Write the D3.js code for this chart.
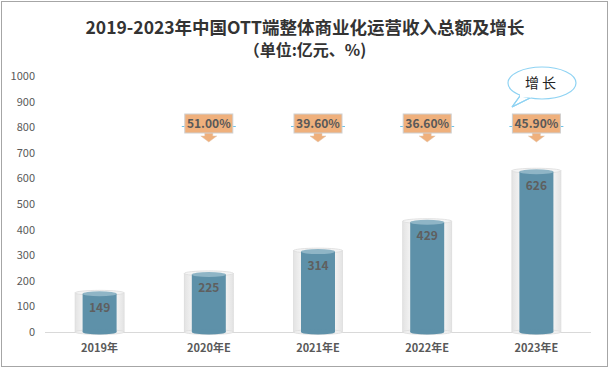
<!DOCTYPE html>
<html><head><meta charset="utf-8">
<script src="https://cdn.jsdelivr.net/npm/d3@7"></script>
<style>body{margin:0;background:#fff}svg{display:block}</style>
</head><body>
<script>
const categories = ["2019年","2020年E","2021年E","2022年E","2023年E"];
const revenue = [149,225,314,429,626];
const growth = [null,"51.00%","39.60%","36.60%","45.90%"];
const yTicks = [0,100,200,300,400,500,600,700,800,900,1000];
const titleLines = ["2019-2023年中国OTT端整体商业化运营收入总额及增长","（单位:亿元、%)"];
const bubbleText = "增长";

const W=609,H=368;
const font = "'Noto Sans CJK SC','Microsoft YaHei',sans-serif";
const svg = d3.select("body").append("svg").attr("width",W).attr("height",H);
svg.append("rect").attr("x",1.5).attr("y",1.5).attr("width",W-3).attr("height",H-3)
  .attr("fill","#fff").attr("stroke","#a6a6a6");

const x = d3.scaleBand().domain(categories).range([45,591]);
const y = d3.scaleLinear().domain([0,1000]).range([332,76]);

// title
svg.selectAll(".title").data(titleLines).join("text")
  .attr("x",305).attr("y",(d,i)=>i===0?34:56)
  .attr("text-anchor","middle").attr("font-family",font)
  .attr("font-weight","bold").attr("font-size",(d,i)=>i===0?17.5:16).attr("fill","#333")
  .text(d=>d);

// y axis
const yAxis = d3.axisLeft(y).tickValues(yTicks).tickFormat(d3.format("d")).tickSize(0).tickPadding(0);
const ya = svg.append("g").attr("transform","translate(35,0)").call(yAxis);
ya.select(".domain").remove();
ya.selectAll("text").attr("font-family",font).attr("font-size",11).attr("fill","#595959");

// baseline
svg.append("line").attr("x1",45).attr("x2",591).attr("y1",332.5).attr("y2",332.5)
  .attr("stroke","#d9d9d9");

// x axis labels
const xAxis = d3.axisBottom(x).tickSize(0).tickPadding(0);
const xa = svg.append("g").attr("transform","translate(0,344)").call(xAxis);
xa.select(".domain").remove();
xa.selectAll("text").attr("font-family",font).attr("font-size",11).attr("font-weight","bold").attr("fill","#595959");

const defs = svg.append("defs");
const gg = defs.append("linearGradient").attr("id","glass");
gg.append("stop").attr("offset","0").attr("stop-color","#e3e3e3");
gg.append("stop").attr("offset","0.2").attr("stop-color","#f7f7f7");
gg.append("stop").attr("offset","0.8").attr("stop-color","#f7f7f7");
gg.append("stop").attr("offset","1").attr("stop-color","#e3e3e3");

const outerW=49, innerW=34, ery=2.5;
const bars = svg.selectAll(".bar").data(categories.map((c,i)=>({c,v:revenue[i],g:growth[i]}))).join("g");
bars.each(function(d){
  const g=d3.select(this);
  const cx = x(d.c)+x.bandwidth()/2;
  const top = y(d.v)-1, base=y(0);
  // glass cylinder
  g.append("rect").attr("x",cx-outerW/2).attr("y",top).attr("width",outerW).attr("height",base-top)
    .attr("fill","url(#glass)").attr("stroke","#dcdcdc").attr("stroke-width",0.8);
  g.append("ellipse").attr("cx",cx).attr("cy",base).attr("rx",outerW/2).attr("ry",ery)
    .attr("fill","#efefef").attr("stroke","#dcdcdc").attr("stroke-width",0.8);
  g.append("ellipse").attr("cx",cx).attr("cy",top).attr("rx",outerW/2).attr("ry",ery)
    .attr("fill","#f4f4f4").attr("stroke","#dcdcdc").attr("stroke-width",0.8);
  // inner blue cylinder
  const it=y(d.v);
  g.append("rect").attr("x",cx-innerW/2).attr("y",it).attr("width",innerW).attr("height",base-it)
    .attr("fill","#5e91a9");
  g.append("ellipse").attr("cx",cx).attr("cy",base).attr("rx",innerW/2).attr("ry",ery)
    .attr("fill","#5e91a9");
  g.append("ellipse").attr("cx",cx).attr("cy",it).attr("rx",innerW/2).attr("ry",ery)
    .attr("fill","#8fb5c6");
  g.append("text").attr("x",cx).attr("y",it+18).attr("text-anchor","middle")
    .attr("font-family",font).attr("font-size",12).attr("font-weight","bold").attr("fill","#5f5f5f")
    .text(d.v);
  if(d.g){
    const by=114, bh=19, bw=48;
    g.append("line").attr("x1",cx-bw/2-3).attr("x2",cx-bw/2).attr("y1",126.5).attr("y2",126.5).attr("stroke","#6cc3ea");
    g.append("line").attr("x1",cx+bw/2).attr("x2",cx+bw/2+3).attr("y1",126.5).attr("y2",126.5).attr("stroke","#6cc3ea");
    g.append("path").attr("d",`M${cx-4},${by+bh} L${cx-4},${by+bh+3} L${cx-8},${by+bh+3} L${cx},${by+bh+9} L${cx+8},${by+bh+3} L${cx+4},${by+bh+3} L${cx+4},${by+bh} Z`)
      .attr("fill","#efb07c").attr("stroke","#e0c4ac").attr("stroke-width",0.5);
    g.append("rect").attr("x",cx-bw/2).attr("y",by).attr("width",bw).attr("height",bh)
      .attr("fill","#efb07c").attr("stroke","#cfcfcf").attr("stroke-width",1);
    g.append("text").attr("x",cx).attr("y",by+14).attr("text-anchor","middle")
      .attr("font-family",font).attr("font-size",12).attr("font-weight","bold").attr("fill","#595959")
      .text(d.g);
  }
});

// speech bubble
const bx=542, byy=83;
const bub = svg.append("g");
bub.append("path")
  .attr("d",`M${bx-22},${byy+13} L${bx-30},${byy+24} L${bx-12},${byy+15} Z`)
  .attr("fill","#fff").attr("stroke","#8fd3f3").attr("stroke-width",1.2);
bub.append("ellipse").attr("cx",bx).attr("cy",byy).attr("rx",34).attr("ry",16)
  .attr("fill","#fff").attr("stroke","#8fd3f3").attr("stroke-width",1.2);
bub.append("path")
  .attr("d",`M${bx-21.5},${byy+12.2} L${bx-30},${byy+24} L${bx-12},${byy+15}`)
  .attr("fill","none").attr("stroke","#8fd3f3").attr("stroke-width",1.2);
bub.append("rect").attr("x",bx-22).attr("y",byy+10).attr("width",11).attr("height",4.5).attr("fill","#fff");
bub.append("text").attr("x",bx).attr("y",byy+5).attr("text-anchor","middle")
  .attr("font-family",font).attr("font-size",14).attr("letter-spacing",3).attr("fill","#222")
  .text(bubbleText);
</script>
</body></html>
